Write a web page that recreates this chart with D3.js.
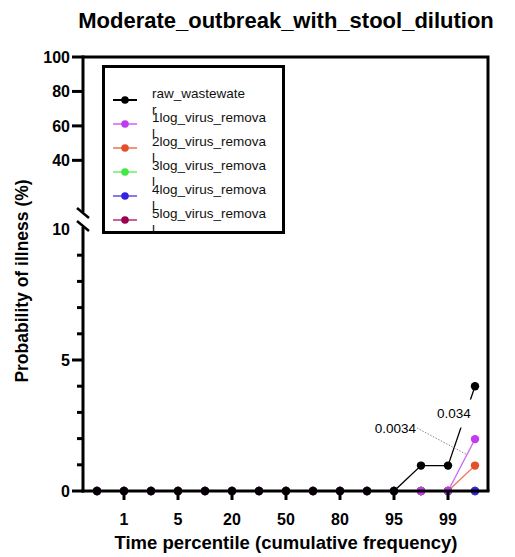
<!DOCTYPE html>
<html>
<head>
<meta charset="utf-8">
<script src="https://cdn.jsdelivr.net/npm/d3@7"></script>
<style>
	body { margin: 0; background: #fff; }
	svg { font-family: "Liberation Sans", Arial, sans-serif; }
</style>
</head>
<body>
<svg width="515" height="557"></svg>
<script>
"use strict"

// time percentiles (x categories); only some of them get a label
var percentiles = ["0.1", "1", "2", "5", "10", "20", "30", "50", "70", "80", "90", "95", "98", "99", "99.9"];
var tickPercentiles = ["1", "5", "20", "50", "80", "95", "99"];

// probability of illness (%)
var raw_wastewater     = [0, 0, 0, 0, 0, 0, 0, 0, 0, 0, 0, 0, 0.97, 0.97, 4];
var log1_virus_removal = [0, 0, 0, 0, 0, 0, 0, 0, 0, 0, 0, 0, 0, 0, 1.98];
var log2_virus_removal = [0, 0, 0, 0, 0, 0, 0, 0, 0, 0, 0, 0, 0, 0, 0.97];
var log3_virus_removal = [0, 0, 0, 0, 0, 0, 0, 0, 0, 0, 0, 0, 0, 0, 0];
var log4_virus_removal = [0, 0, 0, 0, 0, 0, 0, 0, 0, 0, 0, 0, 0, 0, 0];
var log5_virus_removal = [0, 0, 0, 0, 0, 0, 0, 0, 0, 0, 0, 0, 0, 0, 0];

var seriesNames  = ["raw_wastewater", "1log_virus_removal", "2log_virus_removal",
                    "3log_virus_removal", "4log_virus_removal", "5log_virus_removal"];
var seriesColors = ["#000000", "#c03cf0", "#e4502a", "#44e844", "#3422e0", "#990050"];

var lowerTicks = [0, 5, 10];
var lowerMinor = [1, 2, 3, 4, 6, 7, 8, 9];
var upperTicks = [40, 60, 80, 100];

var annotations = ["0.0034", "0.034"];

var series = [raw_wastewater, log1_virus_removal, log2_virus_removal,
              log3_virus_removal, log4_virus_removal, log5_virus_removal].map(function(v, i) {
	return {name: seriesNames[i], color: seriesColors[i], values: v, idx: i};
});

// drawing order seen in the picture
var lineOrder   = [0, 5, 3, 4, 2, 1];
var markerOrder = [5, 3, 4, 2, 1, 0];

var svg = d3.select("svg");
var pLeft = 83, pRight = 488, pTop = 57, pBottom = 491;
var breakLow = 227, breakHigh = 212;

var x = d3.scalePoint().domain(percentiles).range([97, 475]);
var yLow = d3.scaleLinear().domain([0, 10]).range([pBottom, 229]);
var yHigh = d3.scaleLinear().domain([10, 100]).range([breakHigh, pTop]);
function y(v) { return v <= 10 ? yLow(v) : yHigh(v); }

// title
svg.append("text")
   .attr("x", 286).attr("y", 28)
   .attr("text-anchor", "middle")
   .style("font-size", "22px").style("font-weight", "bold")
   .text("Moderate_outbreak_with_stool_dilution");

// frame (top + right)
svg.append("path")
   .attr("d", "M" + pLeft + "," + pTop + "H" + pRight + "V" + pBottom)
   .attr("fill", "none").attr("stroke", "#000").attr("stroke-width", 3);

// lines
var line = d3.line()
	.x(function(d, i) { return x(percentiles[i]); })
	.y(function(d) { return y(d); });

var plot = svg.append("g");
lineOrder.forEach(function(k) {
	var s = series[k];
	plot.append("path")
	    .attr("d", line(s.values))
	    .attr("fill", "none")
	    .attr("stroke", s.color)
	    .attr("stroke-opacity", k == 0 ? 1 : 0.75)
	    .attr("stroke-width", 1.3);
});

// annotation "0.034" sits on the raw line with a white box
var ax = x(percentiles[13]), ay = y(raw_wastewater[13]);
plot.append("rect")
    .attr("x", ax - 12).attr("y", ay - 66)
    .attr("width", 37).attr("height", 28)
    .attr("fill", "#fff");
plot.append("text")
    .attr("x", ax + 6).attr("y", ay - 48)
    .attr("text-anchor", "middle")
    .style("font-size", "13.5px")
    .text(annotations[1]);

// annotation "0.0034" with a dotted leader to the 1log line
var bx = x(percentiles[13]) + 19, by = y(log1_virus_removal[13]) - 0.7 * (y(0) - y(log1_virus_removal[14]));
plot.append("line")
    .attr("x1", 417).attr("y1", 428)
    .attr("x2", bx).attr("y2", by)
    .attr("stroke", "#888").attr("stroke-width", 1)
    .attr("stroke-dasharray", "1.5,1.5");
plot.append("text")
    .attr("x", 416).attr("y", 433)
    .attr("text-anchor", "end")
    .style("font-size", "13.5px")
    .text(annotations[0]);

// x axis
svg.append("line")
   .attr("x1", pLeft - 1.5).attr("x2", pRight + 1.5)
   .attr("y1", pBottom).attr("y2", pBottom)
   .attr("stroke", "#000").attr("stroke-width", 3);
svg.append("g").selectAll("line")
   .data(tickPercentiles).enter().append("line")
   .attr("x1", function(d) { return x(d); }).attr("x2", function(d) { return x(d); })
   .attr("y1", pBottom).attr("y2", pBottom + 9)
   .attr("stroke", "#000").attr("stroke-width", 3);
svg.append("g").selectAll("text")
   .data(tickPercentiles).enter().append("text")
   .attr("x", function(d) { return x(d); }).attr("y", 525)
   .attr("text-anchor", "middle")
   .style("font-size", "16px").style("font-weight", "bold")
   .text(function(d) { return d; });

// markers
markerOrder.forEach(function(k) {
	var s = series[k];
	plot.append("g").selectAll("circle")
	    .data(s.values).enter().append("circle")
	    .attr("cx", function(d, i) { return x(percentiles[i]); })
	    .attr("cy", function(d) { return y(d); })
	    .attr("r", 4.2)
	    .attr("fill", s.color);
});

// y axis, two segments with a break
var yaxis = svg.append("g").attr("stroke", "#000").attr("stroke-width", 3);
yaxis.append("line").attr("x1", pLeft).attr("x2", pLeft).attr("y1", pTop - 1.5).attr("y2", breakHigh);
yaxis.append("line").attr("x1", pLeft).attr("x2", pLeft).attr("y1", breakLow).attr("y2", pBottom + 1.5);
[breakHigh + 1, breakLow - 1].forEach(function(b) {
	yaxis.append("line")
	     .attr("x1", pLeft - 6).attr("y1", b - 5)
	     .attr("x2", pLeft + 6).attr("y2", b + 5)
	     .attr("stroke-width", 2.5);
});
yaxis.selectAll(".maj").data(lowerTicks.slice(0, 2)).enter().append("line")
     .attr("x1", pLeft - 11).attr("x2", pLeft)
     .attr("y1", function(d) { return yLow(d); }).attr("y2", function(d) { return yLow(d); });
yaxis.selectAll(".min").data(lowerMinor).enter().append("line")
     .attr("x1", pLeft - 6).attr("x2", pLeft)
     .attr("y1", function(d) { return yLow(d); }).attr("y2", function(d) { return yLow(d); });
yaxis.selectAll(".up").data(upperTicks).enter().append("line")
     .attr("x1", pLeft - 11).attr("x2", pLeft)
     .attr("y1", function(d) { return yHigh(d); }).attr("y2", function(d) { return yHigh(d); });

var ylabels = lowerTicks.map(function(d) { return {v: d, py: yLow(d)}; })
	.concat(upperTicks.map(function(d) { return {v: d, py: yHigh(d)}; }));
svg.append("g").selectAll("text")
   .data(ylabels).enter().append("text")
   .attr("x", 70).attr("y", function(d) { return d.py; })
   .attr("dy", "0.36em")
   .attr("text-anchor", "end")
   .style("font-size", "16px").style("font-weight", "bold")
   .text(function(d) { return d.v; });

// axis titles
svg.append("text")
   .attr("transform", "translate(28,281) rotate(-90)")
   .attr("text-anchor", "middle")
   .style("font-size", "17.5px").style("font-weight", "bold")
   .text("Probability of illness (%)");
svg.append("text")
   .attr("x", 286).attr("y", 549)
   .attr("text-anchor", "middle")
   .style("font-size", "18.5px").style("font-weight", "bold")
   .text("Time percentile (cumulative frequency)");

// legend
var legend = svg.append("g");
legend.append("rect")
      .attr("x", 103.5).attr("y", 66.5)
      .attr("width", 180).attr("height", 166)
      .attr("fill", "#fff").attr("stroke", "#000").attr("stroke-width", 3);
var rows = legend.selectAll(".row").data(series).enter().append("g")
	.attr("transform", function(d, i) { return "translate(0," + (100 + i * 24) + ")"; });
rows.append("line")
    .attr("x1", 113).attr("x2", 137)
    .attr("stroke", function(d) { return d.color; })
    .attr("stroke-opacity", function(d) { return d.idx == 0 ? 1 : 0.6; })
    .attr("stroke-width", 2);
rows.append("circle")
    .attr("cx", 125).attr("r", 3.8)
    .attr("fill", function(d) { return d.color; });
// labels are wrapped: last letter drops to a second line
rows.each(function(d) {
	var t = d3.select(this).append("text")
		.attr("x", 152).attr("y", -2.5)
		.style("font-size", "13.5px").style("fill", "#111");
	t.append("tspan").attr("x", 152).text(d.name.slice(0, -1));
	t.append("tspan").attr("x", 152).attr("dy", 16.5).text(d.name.slice(-1));
});
</script>
</body>
</html>
